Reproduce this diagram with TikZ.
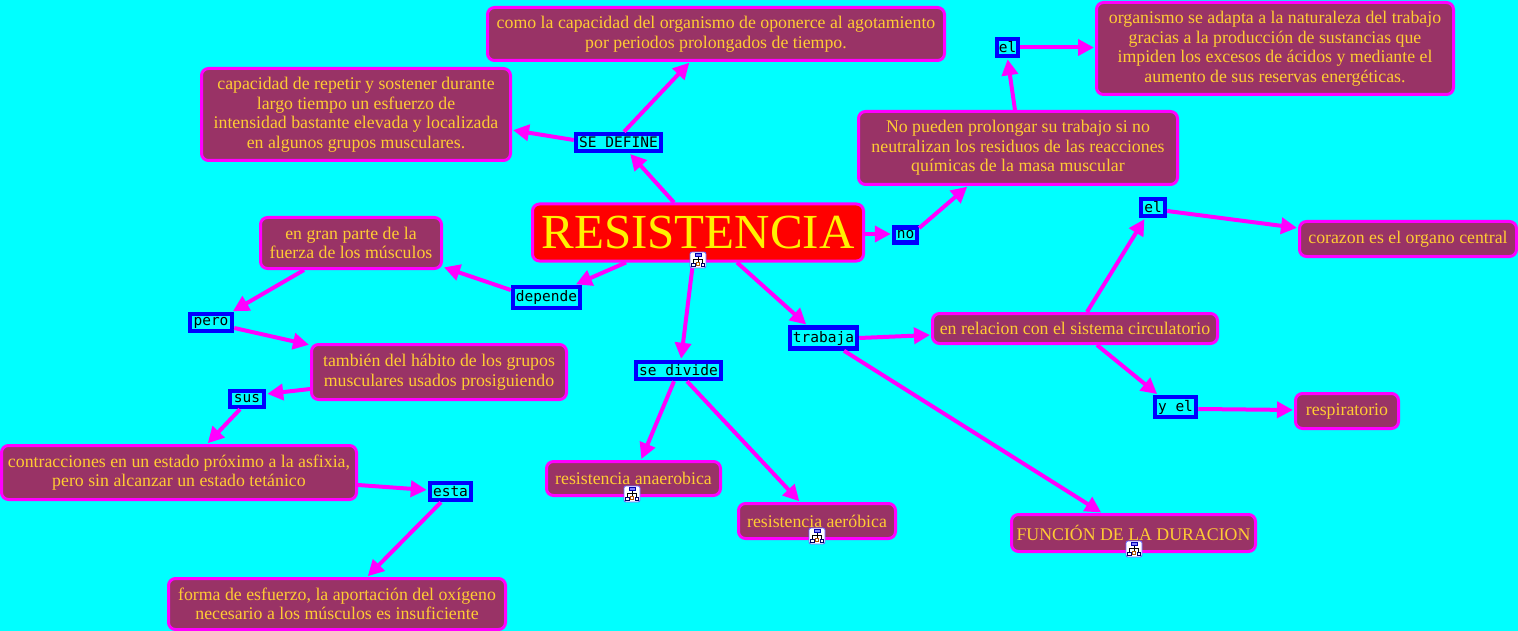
\documentclass[tikz,border=0pt]{standalone}
\usepackage{fontspec}
\setmainfont{Liberation Serif}
\setmonofont{DejaVu Sans Mono}
\usetikzlibrary{arrows.meta}
\definecolor{backcyan}{HTML}{00FFFF}
\definecolor{conceptfill}{HTML}{993366}
\definecolor{conceptline}{HTML}{FF00FF}
\definecolor{concepttext}{HTML}{FFCC33}
\tikzset{
    concept/.style={draw=conceptline, fill=conceptfill, line width=3pt, rounded corners=7pt,
      text=concepttext, align=center, inner sep=0pt, font=\fontsize{17.8}{19.5}\selectfont},
    mainconcept/.style={concept, fill=red, text=yellow, font=\fontsize{49}{55}\selectfont},
    linkword/.style={draw=blue, fill=backcyan, line width=4.5pt, text=black, inner sep=0pt,
      font=\fontsize{14.5}{17}\ttfamily},
    connector/.style={draw=conceptline, line width=4pt, shorten >=1pt,
      -{Triangle[length=16pt,width=16pt]}}
}
\tikzset{
    treeicon/.pic={
      \draw[fill=white, draw=blue!60!white, rounded corners=2pt, line width=0.8pt] (-8,-8) rectangle (8,8);
      \draw[black, line width=0.8pt] (0,-4) -- (0,3) (-4.5,-1) -- (4.5,-1) (-4.5,-1) -- (-4.5,3) (4.5,-1) -- (4.5,3);
      \draw[blue!70!black, fill=blue!50!white, line width=0.8pt] (-3,-6.5) rectangle (3,-3.5);
      \draw[blue!40!black, fill=white, line width=1pt] (-6.5,3) rectangle (-3,6.5) (3,3) rectangle (6.5,6.5);
      \draw[orange!70!black, fill=white, line width=1pt] (-1.5,2.5) rectangle (1.5,5.5);
    }}
\begin{document}
\begin{tikzpicture}[x=1pt, y=-1pt]
    \path[use as bounding box, fill=backcyan] (0,0) rectangle (1518,631);

    \node[mainconcept, minimum width=331pt, minimum height=57pt] (main) at (698,232.5) {RESISTENCIA};

    \node[concept, minimum width=457pt, minimum height=53pt] (capacidad) at (716,34)
      {como la capacidad del organismo de oponerce al agotamiento\\por periodos prolongados de tiempo.};
    \node[concept, minimum width=309pt, minimum height=92pt] (repetir) at (356,114.5)
      {capacidad de repetir y sostener durante\\largo tiempo un esfuerzo de\\intensidad bastante elevada y localizada\\en algunos grupos musculares.};
    \node[concept, minimum width=357pt, minimum height=92pt] (organismo) at (1275,48.5)
      {organismo se adapta a la naturaleza del trabajo\\gracias a la producción de sustancias que\\impiden los excesos de ácidos y mediante el\\aumento de sus reservas energéticas.};
    \node[concept, minimum width=319pt, minimum height=73pt] (prolongar) at (1018,148)
      {No pueden prolongar su trabajo si no\\neutralizan los residuos de las reacciones\\químicas de la masa muscular};
    \node[concept, minimum width=217pt, minimum height=35pt] (corazon) at (1408,239) {corazon es el organo central};
    \node[concept, minimum width=285pt, minimum height=30pt] (circulatorio) at (1075,328.5) {en relacion con el sistema circulatorio};
    \node[concept, minimum width=103pt, minimum height=35pt] (respiratorio) at (1347,411) {respiratorio};
    \node[concept, minimum width=174pt, minimum height=34pt] (anaerobica) at (633.5,478.5) {resistencia anaerobica};
    \node[concept, minimum width=157pt, minimum height=35pt] (aerobica) at (817,521) {resistencia aeróbica};
    \node[concept, minimum width=244pt, minimum height=37pt] (duracion) at (1133.5,533) {FUNCIÓN DE LA DURACION};
    \node[concept, minimum width=181pt, minimum height=51pt] (fuerza) at (351,243)
      {en gran parte de la\\fuerza de los músculos};
    \node[concept, minimum width=255pt, minimum height=55pt] (habito) at (439,372)
      {también del hábito de los grupos\\musculares usados prosiguiendo};
    \node[concept, minimum width=355pt, minimum height=54pt] (contracciones) at (179,472.5)
      {contracciones en un estado próximo a la asfixia,\\pero sin alcanzar un estado tetánico};
    \node[concept, minimum width=337pt, minimum height=51pt] (esfuerzo) at (337,604)
      {forma de esfuerzo, la aportación del oxígeno\\necesario a los músculos es insuficiente};

    \node[linkword, minimum width=85pt, minimum height=17pt] (sedefine) at (618.5,142.5) {SE DEFINE};
    \node[linkword, minimum width=21pt, minimum height=17pt] (elA) at (1007.5,47.5) {el};
    \node[linkword, minimum width=23pt, minimum height=15pt] (no) at (905.5,235) {no};
    \node[linkword, minimum width=24pt, minimum height=17pt] (elB) at (1153,207.5) {el};
    \node[linkword, minimum width=67pt, minimum height=21pt] (trabaja) at (823.5,338) {trabaja};
    \node[linkword, minimum width=41pt, minimum height=20pt] (yel) at (1175.5,407) {y el};
    \node[linkword, minimum width=85pt, minimum height=17pt] (sedivide) at (678.5,370.5) {se divide};
    \node[linkword, minimum width=67pt, minimum height=21pt] (depende) at (546.5,297.5) {depende};
    \node[linkword, minimum width=42pt, minimum height=17pt] (pero) at (211,322.5) {pero};
    \node[linkword, minimum width=34pt, minimum height=16pt] (sus) at (247,399) {sus};
    \node[linkword, minimum width=41pt, minimum height=17pt] (esta) at (450.5,491.5) {esta};

    \draw[connector] ([xshift=-24pt]main.north) -- ([xshift=11pt]sedefine.south);
    \draw[connector] ([xshift=5.5pt]sedefine.north) -- ([xshift=-26pt]capacidad.south);
    \draw[connector] ([yshift=2.5pt]sedefine.west) -- ([yshift=-15.5pt]repetir.east);
    \draw[connector] ([yshift=-1.5pt]main.east) -- ([yshift=1pt]no.west);
    \draw[connector] ([yshift=7pt]no.east) -- ([xshift=-50pt]prolongar.south);
    \draw[connector] ([xshift=-3pt]prolongar.north) -- (elA.south);
    \draw[connector] (elA.east) -- (elA.east -| organismo.west);
    \draw[connector] ([xshift=-72pt]main.south) -- ([xshift=28.5pt]depende.north);
    \draw[connector] ([yshift=7.5pt]depende.west) -- ([yshift=-24pt]fuerza.east);
    \draw[connector] ([xshift=-47pt]fuerza.south) -- ([xshift=21pt]pero.north);
    \draw[connector] ([yshift=-5.5pt]pero.east) -- ([yshift=27pt]habito.west);
    \draw[connector] ([yshift=-17pt]habito.west) -- ([yshift=5pt]sus.east);
    \draw[connector] ([xshift=-7pt]sus.south) -- ([xshift=28pt]contracciones.north);
    \draw[connector] ([yshift=-12.5pt]contracciones.east) -- ([yshift=1.5pt]esta.west);
    \draw[connector] ([xshift=-9.5pt]esta.south) -- ([xshift=30pt]esfuerzo.north);
    \draw[connector] ([xshift=-5pt]main.south) -- ([xshift=2.5pt]sedivide.north);
    \draw[connector] ([xshift=39pt]main.south) -- ([xshift=-16.5pt]trabaja.north);
    \draw[connector] (trabaja.east) -- ([yshift=-6.5pt]circulatorio.west);
    \draw[connector] ([xshift=20.5pt]trabaja.south) -- ([xshift=-31.5pt]duracion.north);
    \draw[connector] ([xshift=-4.5pt]sedivide.south) -- ([xshift=7.5pt]anaerobica.north);
    \draw[connector] ([xshift=8.5pt]sedivide.south) -- ([xshift=-17pt]aerobica.north);
    \draw[connector] ([xshift=12pt]circulatorio.north) -- ([xshift=-8pt]elB.south);
    \draw[connector] ([yshift=-3.5pt]elB.east) -- ([yshift=11pt]corazon.west);
    \draw[connector] ([xshift=22pt]circulatorio.south) -- ([xshift=-17.5pt]yel.north);
    \draw[connector] ([yshift=-2pt]yel.east) -- ([yshift=1pt]respiratorio.west);

    \pic at (698,260) {treeicon};
    \pic at (632,494) {treeicon};
    \pic at (817,536) {treeicon};
    \pic at (1134,549) {treeicon};
\end{tikzpicture}
\end{document}
